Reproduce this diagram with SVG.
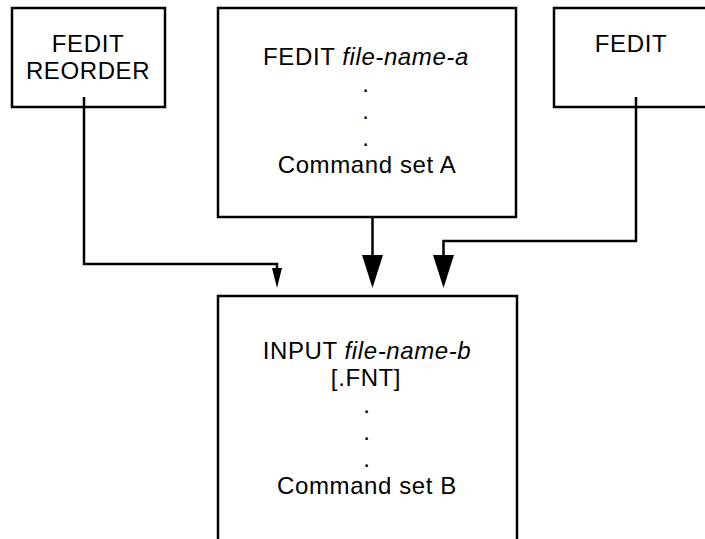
<svg xmlns="http://www.w3.org/2000/svg" width="705" height="539" viewBox="0 0 705 539">
<style>
.box{fill:#fff;stroke:#000;stroke-width:2.5}
.t{font-family:"Liberation Sans",Arial,sans-serif;font-size:24px;letter-spacing:0.6px;fill:#000;text-anchor:middle}
.i{font-style:italic}
.c{fill:none;stroke:#000;stroke-width:2.5}
.h{fill:#000}
</style>
<rect width="705" height="539" fill="#fff"/>
<g id="node-reorder">
<rect class="box" x="12" y="8" width="153" height="99"/>
<text class="t" x="88" y="52">FEDIT</text>
<text class="t" x="88" y="79">REORDER</text>
</g>
<g id="node-fedit-a">
<rect class="box" x="218" y="8" width="298" height="209"/>
<text class="t" x="366" y="65">FEDIT <tspan class="i">file-name-a</tspan></text>
<text class="t" x="366" y="92">.</text>
<text class="t" x="366" y="119">.</text>
<text class="t" x="366" y="146">.</text>
<text class="t" x="367" y="173">Command set A</text>
</g>
<g id="node-fedit">
<rect class="box" x="554" y="8" width="170" height="99"/>
<text class="t" x="631" y="52">FEDIT</text>
</g>
<g id="node-input">
<rect class="box" x="218" y="296" width="299" height="270"/>
<text class="t" x="367" y="359">INPUT <tspan class="i">file-name-b</tspan></text>
<text class="t" x="366" y="386">[.FNT]</text>
<text class="t" x="367" y="413">.</text>
<text class="t" x="367" y="440">.</text>
<text class="t" x="367" y="467">.</text>
<text class="t" x="367" y="494">Command set B</text>
</g>
<g id="connectors">
<polyline class="c" points="84,97 84,264 277,264 277,269"/>
<polygon class="h" points="272,268 282,268 277,288"/>
<polyline class="c" points="372.5,217 372.5,256"/>
<polygon class="h" points="362,255 383,255 372.5,288"/>
<polyline class="c" points="636,97 636,241 443.5,241 443.5,256"/>
<polygon class="h" points="433,255 454,255 443.5,288"/>
</g>
</svg>
